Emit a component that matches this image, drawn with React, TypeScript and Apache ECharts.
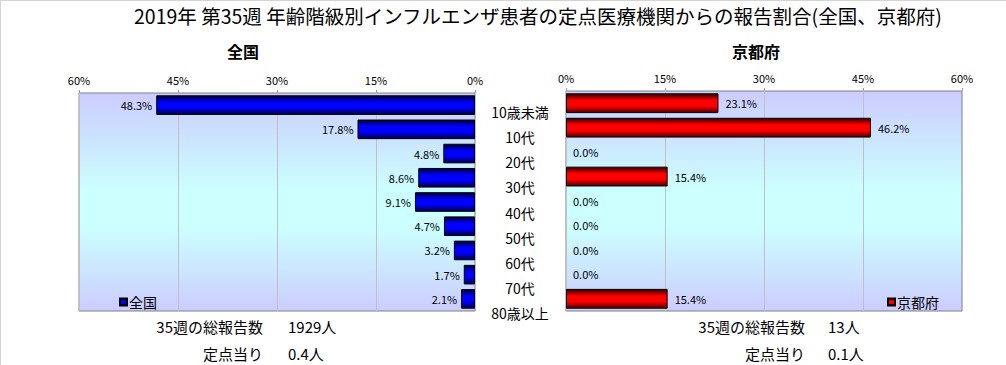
import React, { useEffect, useRef } from "react";
import * as echarts from "echarts";

const categories = ["10歳未満", "10代", "20代", "30代", "40代", "50代", "60代", "70代", "80歳以上"];
const nationValues = [48.3, 17.8, 4.8, 8.6, 9.1, 4.7, 3.2, 1.7, 2.1];
const kyotoValues = [23.1, 46.2, 0.0, 15.4, 0.0, 0.0, 0.0, 0.0, 15.4];
const axisMax = 60;
const axisStep = 15;
const titleText = "2019年 第35週 年齢階級別インフルエンザ患者の定点医療機関からの報告割合(全国、京都府)";
const nationTotal = "1929人";
const nationPerSite = "0.4人";
const kyotoTotal = "13人";
const kyotoPerSite = "0.1人";

const JP = "'Noto Sans CJK JP', 'Noto Sans', sans-serif";

export default function App() {
  const ref = useRef<HTMLDivElement>(null);
  useEffect(() => {
    if (!ref.current) return;
    const chart = echarts.init(ref.current, undefined, { renderer: "svg" });
    const bg = new echarts.graphic.LinearGradient(0, 0, 0, 1, [
      { offset: 0, color: "#ccccff" },
      { offset: 0.45, color: "#ccffff" },
      { offset: 0.62, color: "#ccffff" },
      { offset: 1, color: "#ccccff" },
    ]);
    const blue = new echarts.graphic.LinearGradient(0, 0, 0, 1, [
      { offset: 0, color: "#000030" },
      { offset: 0.35, color: "#0000ff" },
      { offset: 0.65, color: "#0000ff" },
      { offset: 1, color: "#000040" },
    ]);
    const red = new echarts.graphic.LinearGradient(0, 0, 0, 1, [
      { offset: 0, color: "#300000" },
      { offset: 0.35, color: "#ff0000" },
      { offset: 0.65, color: "#ff0000" },
      { offset: 1, color: "#500000" },
    ]);
    const toItems = (vals: number[]) =>
      vals.map((v) => (v === 0 ? { value: v, itemStyle: { borderWidth: 0 } } : v));
    const valueAxis = (gridIndex: number, inverse: boolean) => ({
      type: "value",
      gridIndex,
      min: 0,
      max: axisMax,
      interval: axisStep,
      inverse,
      position: "top",
      axisLine: { show: false },
      axisTick: { show: true, length: 3, lineStyle: { color: "#a0a0a0" } },
      axisLabel: { formatter: "{value}%", fontSize: 11, color: "#000", fontFamily: JP, margin: 8 },
      splitLine: { show: true, lineStyle: { color: "#c0c0c0", width: 1 } },
    });
    const catAxis = (gridIndex: number) => ({
      type: "category",
      gridIndex,
      data: categories,
      inverse: true,
      axisLine: { show: false },
      axisTick: { show: false },
      axisLabel: { show: false },
      splitLine: { show: false },
    });
    const labelStyle = {
      show: true,
      fontSize: 11,
      color: "#000",
      fontFamily: JP,
      distance: 4,
      formatter: (p: any) => Number(p.value).toFixed(1) + "%",
    };
    const txt = (x: number, y: number, text: string, align: string) => ({
      type: "text",
      x,
      y,
      style: { text, fill: "#000", font: `15px ${JP}`, textAlign: align, textVerticalAlign: "middle" },
    });
    chart.setOption({
      animation: false,
      backgroundColor: "#fff",
      title: {
        text: titleText,
        left: 129,
        top: 1,
        textStyle: { fontSize: 19.5, fontWeight: "normal", color: "#000", fontFamily: JP },
      },
      grid: [
        { left: 79, top: 93, width: 396, height: 218, show: true, backgroundColor: bg, borderColor: "#808080", borderWidth: 1 },
        { left: 566, top: 91, width: 396, height: 220, show: true, backgroundColor: bg, borderColor: "#808080", borderWidth: 1 },
        { left: 520, top: 99, width: 1, height: 227, show: false },
      ],
      xAxis: [
        valueAxis(0, true),
        valueAxis(1, false),
        { type: "value", gridIndex: 2, show: false },
      ],
      yAxis: [
        catAxis(0),
        catAxis(1),
        {
          type: "category",
          gridIndex: 2,
          data: categories,
          inverse: true,
          axisLine: { show: false },
          axisTick: { show: false },
          splitLine: { show: false },
          axisLabel: { show: true, align: "center", margin: 0, fontSize: 14, color: "#000", fontFamily: JP },
        },
      ],
      legend: [
        {
          data: ["全国"],
          left: 114,
          top: 290,
          icon: "rect",
          itemWidth: 7,
          itemHeight: 7,
          itemGap: 2,
          textStyle: { fontSize: 14, color: "#000", fontFamily: JP, padding: [0, 0, 0, -3] },
        },
        {
          data: ["京都府"],
          left: 882,
          top: 290,
          icon: "rect",
          itemWidth: 7,
          itemHeight: 7,
          itemGap: 2,
          textStyle: { fontSize: 14, color: "#000", fontFamily: JP, padding: [0, 0, 0, -3] },
        },
      ],
      series: [
        {
          name: "全国",
          type: "bar",
          xAxisIndex: 0,
          yAxisIndex: 0,
          data: toItems(nationValues),
          barCategoryGap: "19%",
          itemStyle: { color: blue, borderColor: "#000", borderWidth: 1 },
          label: { ...labelStyle, position: "left" },
        },
        {
          name: "京都府",
          type: "bar",
          xAxisIndex: 1,
          yAxisIndex: 1,
          data: toItems(kyotoValues),
          barCategoryGap: "19%",
          itemStyle: { color: red, borderColor: "#000", borderWidth: 1 },
          label: { ...labelStyle, position: "right", distance: 7 },
        },
      ],
      graphic: [
        { type: "line", shape: { x1: 0, y1: 0.5, x2: 1006, y2: 0.5 }, style: { stroke: "#d4d4d4", lineWidth: 1 } },
        { type: "line", shape: { x1: 0.5, y1: 0, x2: 0.5, y2: 365 }, style: { stroke: "#d4d4d4", lineWidth: 1 } },
        { type: "text", x: 243, y: 51, style: { text: "全国", fill: "#000", font: `bold 16px ${JP}`, textAlign: "center", textVerticalAlign: "middle" } },
        { type: "text", x: 756, y: 51, style: { text: "京都府", fill: "#000", font: `bold 16px ${JP}`, textAlign: "center", textVerticalAlign: "middle" } },
        txt(263, 326, "35週の総報告数", "right"),
        txt(288, 326, nationTotal, "left"),
        txt(263, 353, "定点当り", "right"),
        txt(288, 353, nationPerSite, "left"),
        txt(805, 326, "35週の総報告数", "right"),
        txt(828, 326, kyotoTotal, "left"),
        txt(805, 353, "定点当り", "right"),
        txt(828, 353, kyotoPerSite, "left"),
      ],
    });
    return () => chart.dispose();
  }, []);
  return <div ref={ref} style={{ position: "fixed", left: 0, top: 0, width: 1006, height: 365 }} />;
}
